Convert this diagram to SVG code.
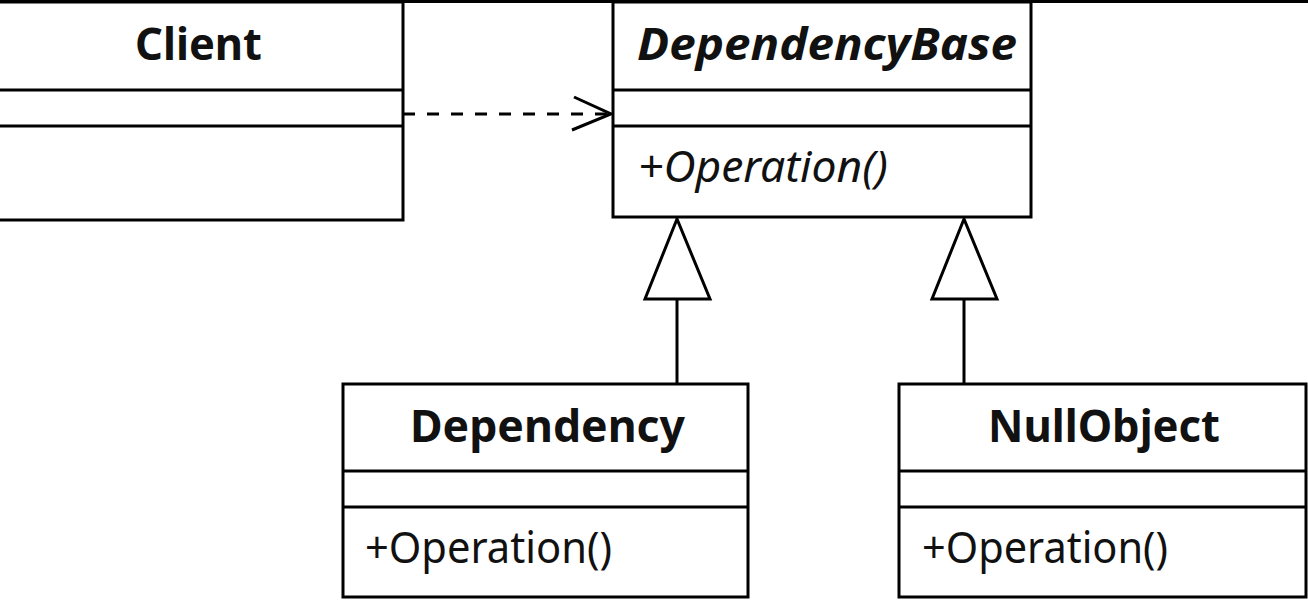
<svg xmlns="http://www.w3.org/2000/svg" width="1308" height="600" viewBox="0 0 1308 600">
  <defs>
    <style>
      .box { fill: #ffffff; stroke: #000000; stroke-width: 3; }
      .div { stroke: #000000; stroke-width: 3; }
      .title { font-family: "Noto Sans", "DejaVu Sans", sans-serif; font-size: 44px; font-weight: bold; fill: #111111; }
      .op { font-family: "Noto Sans", "DejaVu Sans", sans-serif; font-size: 44px; fill: #111111; }
      .conn { fill: none; stroke: #000000; stroke-width: 3; }
      .gen { fill: #ffffff; stroke: #000000; stroke-width: 3; stroke-linejoin: miter; }
    </style>
  </defs>
  <rect x="0" y="0" width="1308" height="600" fill="#ffffff"/>
  <rect x="0" y="0" width="1308" height="3" fill="#000000"/>

  <g id="connectors">
    <line class="conn" x1="403" y1="114" x2="610" y2="114" stroke-dasharray="12 12"/>
    <polyline class="conn" points="574,97 611,114 572,130"/>
    <line class="conn" x1="677" y1="299" x2="677" y2="384"/>
    <polygon class="gen" points="677,219 645,299 710,299"/>
    <line class="conn" x1="964" y1="299" x2="964" y2="384"/>
    <polygon class="gen" points="964,219 932,299 997,299"/>
  </g>

  <g id="client">
    <rect class="box" x="-10" y="2" width="413" height="218"/>
    <line class="div" x1="-10" y1="90" x2="403" y2="90"/>
    <line class="div" x1="-10" y1="126" x2="403" y2="126"/>
    <text class="title" x="135" y="60" textLength="127" lengthAdjust="spacingAndGlyphs">Client</text>
  </g>

  <g id="dependency-base">
    <rect class="box" x="613" y="2" width="418" height="215"/>
    <line class="div" x1="613" y1="90" x2="1031" y2="90"/>
    <line class="div" x1="613" y1="126" x2="1031" y2="126"/>
    <text class="title" x="637" y="60" font-style="italic" textLength="380" lengthAdjust="spacingAndGlyphs">DependencyBase</text>
    <text class="op" x="638" y="182" font-style="italic" textLength="250" lengthAdjust="spacingAndGlyphs">+Operation()</text>
  </g>

  <g id="dependency">
    <rect class="box" x="343" y="384" width="405" height="213"/>
    <line class="div" x1="343" y1="471" x2="748" y2="471"/>
    <line class="div" x1="343" y1="507" x2="748" y2="507"/>
    <text class="title" x="410" y="442" textLength="275" lengthAdjust="spacingAndGlyphs">Dependency</text>
    <text class="op" x="365" y="563" textLength="247" lengthAdjust="spacingAndGlyphs">+Operation()</text>
  </g>

  <g id="null-object">
    <rect class="box" x="899" y="384" width="407" height="213"/>
    <line class="div" x1="899" y1="471" x2="1306" y2="471"/>
    <line class="div" x1="899" y1="507" x2="1306" y2="507"/>
    <text class="title" x="988" y="442" textLength="232" lengthAdjust="spacingAndGlyphs">NullObject</text>
    <text class="op" x="922" y="563" textLength="246" lengthAdjust="spacingAndGlyphs">+Operation()</text>
  </g>
</svg>
